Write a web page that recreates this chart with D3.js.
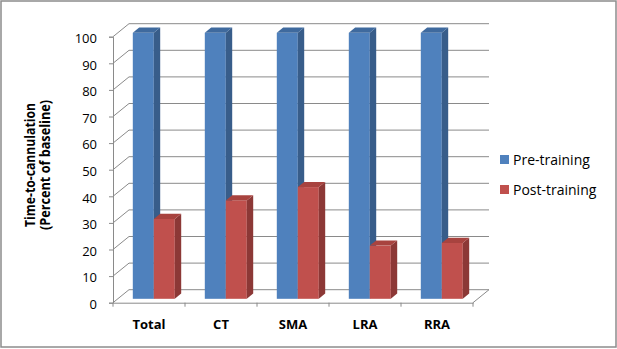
<!DOCTYPE html>
<html><head><meta charset="utf-8">
<script src="https://cdn.jsdelivr.net/npm/d3@7/dist/d3.min.js"></script>
<style>
html,body{margin:0;padding:0;background:#fff;}
text{font-family:"Open Sans",sans-serif;}
</style></head>
<body><svg id="c" width="617" height="349"></svg>
<script>
const categories = ["Total","CT","SMA","LRA","RRA"];
const seriesNames = ["Pre-training","Post-training"];
const preTraining = [100,100,100,100,100];
const postTraining = [30,37,42,20,21];
const yTicks = [0,10,20,30,40,50,60,70,80,90,100];
const yTitle = ["Time-to-cannulation","(Percent of baseline)"];

const colors = [
  {front:"#4F81BD", side:"#385D8A", top:"#3F6A9E"},
  {front:"#C0504D", side:"#8C3836", top:"#A8433F"}
];
const series = [preTraining, postTraining];

const svg = d3.select("#c");
svg.append("rect").attr("x",1).attr("y",1).attr("width",615).attr("height",346)
  .attr("fill","#fff").attr("stroke","#8c8c8c").attr("stroke-width",1.5);

const D = {dx:16, dy:-13};
const f0 = 0.3, f1 = 0.7;
const x = d3.scaleBand().domain(categories).range([113,473]).paddingInner(0).paddingOuter(0);
const y = d3.scaleLinear().domain([0,100]).range([302.7,36.7]);
const groupW = x.bandwidth()*42/72;
const x1 = d3.scaleBand().domain(seriesNames).range([0,groupW]);
const gridColor = "#8a8a8a";

const g = svg.append("g");
yTicks.forEach(t=>{
  const yy = y(t);
  g.append("line").attr("x1",113+D.dx).attr("x2",473+D.dx).attr("y1",yy+D.dy).attr("y2",yy+D.dy)
    .attr("stroke",gridColor).attr("stroke-width",1);
  g.append("line").attr("x1",113).attr("y1",yy).attr("x2",113+D.dx).attr("y2",yy+D.dy)
    .attr("stroke",gridColor).attr("stroke-width",1);
});
g.append("line").attr("x1",473).attr("y1",y(0)).attr("x2",473+D.dx).attr("y2",y(0)+D.dy)
  .attr("stroke",gridColor);

const yAxis = d3.axisLeft(y).tickValues(yTicks).tickSize(4).tickPadding(12);
const ya = svg.append("g").attr("transform","translate(113,0)").call(yAxis);
ya.select(".domain").attr("stroke",gridColor);
ya.selectAll(".tick line").attr("stroke",gridColor);
ya.selectAll(".tick text").attr("font-size",13).attr("fill","#000").attr("font-family","Open Sans").attr("dy","0.45em");

const xAxis = d3.axisBottom(x).tickSize(0).tickPadding(17);
const xa = svg.append("g").attr("transform",`translate(0,${y(0)})`).call(xAxis);
xa.select(".domain").attr("stroke",gridColor);
xa.selectAll(".tick text").attr("font-size",13).attr("font-weight","bold").attr("fill","#000").attr("font-family","Open Sans");
const bounds = categories.map(c=>x(c)).concat([x(categories[categories.length-1])+x.bandwidth()]);
xa.selectAll("line.bt").data(bounds).enter().append("line").attr("class","bt")
  .attr("x1",d=>d).attr("x2",d=>d).attr("y1",0).attr("y2",4).attr("stroke",gridColor);

const bars = svg.append("g");
categories.forEach((c,ci)=>{
  series.forEach((s,si)=>{
    const v = s[ci];
    const w = x1.bandwidth();
    const xl = x(c) + (x.bandwidth()-groupW)/2 + x1(seriesNames[si]) + f0*D.dx;
    const xr = xl + w;
    const yt = y(v) + f0*D.dy;
    const yb = y(0) + f0*D.dy;
    const ddx = (f1-f0)*D.dx, ddy = (f1-f0)*D.dy;
    const col = colors[si];
    bars.append("rect").attr("x",xl).attr("y",yt).attr("width",w).attr("height",yb-yt).attr("fill",col.front);
    bars.append("polygon").attr("points",[[xr,yt],[xr+ddx,yt+ddy],[xr+ddx,yb+ddy],[xr,yb]].map(p=>p.join(",")).join(" "))
      .attr("fill",col.side);
    bars.append("polygon").attr("points",[[xl,yt],[xl+ddx,yt+ddy],[xr+ddx,yt+ddy],[xr,yt]].map(p=>p.join(",")).join(" "))
      .attr("fill",col.top);
  });
});

// y title
const yt = svg.append("text").attr("transform","translate(0,165) rotate(-90)")
  .attr("text-anchor","middle").attr("font-weight","bold").attr("font-size",15).attr("fill","#000");
yt.append("tspan").attr("x",0).attr("y",35).attr("textLength",124).attr("lengthAdjust","spacingAndGlyphs").text(yTitle[0]);
yt.append("tspan").attr("x",0).attr("y",50).attr("textLength",130).attr("lengthAdjust","spacingAndGlyphs").text(yTitle[1]);

// legend
const lg = svg.append("g");
seriesNames.forEach((n,i)=>{
  const by = 165 + i*30;
  lg.append("rect").attr("x",500).attr("y",by-10).attr("width",9).attr("height",9).attr("fill",colors[i].front);
  lg.append("text").attr("x",513).attr("y",by).attr("font-size",14).attr("fill","#000").text(n);
});
</script></body></html>
